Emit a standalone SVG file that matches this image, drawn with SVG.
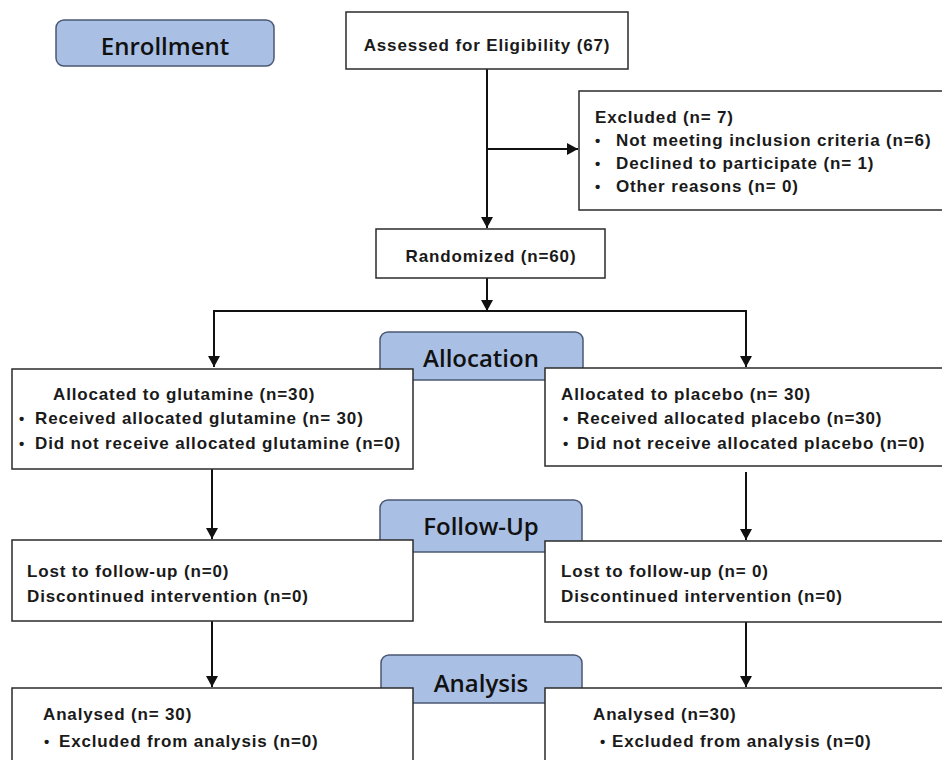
<svg xmlns="http://www.w3.org/2000/svg" width="942" height="760" viewBox="0 0 942 760">
<style>
.box{fill:#fff;stroke:#2b2b2b;stroke-width:1.5}
.stage{fill:#a9bfe3;stroke:#4b5873;stroke-width:1.5}
.st{font-family:"Open Sans","Noto Sans",sans-serif;font-weight:600;font-size:24px;fill:#111;text-anchor:middle}
.t{font-family:"Liberation Sans",Arial,sans-serif;font-weight:bold;font-size:17px;letter-spacing:0.85px;fill:#1a1a1a}
.b{font-size:15px;letter-spacing:0}
.ln{fill:none;stroke:#111;stroke-width:2}
</style>
<defs>
<marker id="ar" markerWidth="11" markerHeight="12" refX="11" refY="6" orient="auto" markerUnits="userSpaceOnUse">
<path d="M0,0 L11,6 L0,12 Z" fill="#111"/>
</marker>
</defs>
<rect width="942" height="760" fill="#fff"/>
<g id="connectors">
<path class="ln" d="M487,69 V228" marker-end="url(#ar)"/>
<path class="ln" d="M487,149 H578" marker-end="url(#ar)"/>
<path class="ln" d="M487,278 V311" marker-end="url(#ar)"/>
<path class="ln" d="M214,367 V311 H746 V367" marker-end="url(#ar)"/>
<path class="ln" d="M214,332 V367" marker-end="url(#ar)"/>
<path class="ln" d="M212,469 V539" marker-end="url(#ar)"/>
<path class="ln" d="M746,472 V540" marker-end="url(#ar)"/>
<path class="ln" d="M212,621 V687" marker-end="url(#ar)"/>
<path class="ln" d="M746,622 V687" marker-end="url(#ar)"/>
</g>
<g id="enrollment"><rect class="stage" x="56" y="20" width="218" height="46" rx="8"/><text class="st" x="165" y="55">Enrollment</text></g>
<g id="assessed"><rect class="box" x="346" y="12" width="282" height="57"/><text class="t" x="487" y="51" text-anchor="middle">Assessed for Eligibility (67)</text></g>
<g id="excluded"><rect class="box" x="579" y="91" width="370" height="119"/>
<text class="t" x="595" y="123">Excluded (n= 7)</text>
<text class="t" x="595" y="146"><tspan class="b">•</tspan><tspan x="616">Not meeting inclusion criteria (n=6)</tspan></text>
<text class="t" x="595" y="169"><tspan class="b">•</tspan><tspan x="616">Declined to participate (n= 1)</tspan></text>
<text class="t" x="595" y="192"><tspan class="b">•</tspan><tspan x="616">Other reasons (n= 0)</tspan></text>
</g>
<g id="randomized"><rect class="box" x="376" y="229" width="229" height="49"/><text class="t" x="491" y="262" text-anchor="middle">Randomized (n=60)</text></g>
<g id="allocation"><rect class="stage" x="380" y="332" width="203" height="48" rx="8"/><text class="st" x="481" y="367">Allocation</text></g>
<g id="alloc-glutamine"><rect class="box" x="12" y="369" width="401" height="100"/>
<text class="t" x="53" y="400">Allocated to glutamine (n=30)</text>
<text class="t" x="19" y="424"><tspan class="b">•</tspan><tspan x="35">Received allocated glutamine (n= 30)</tspan></text>
<text class="t" x="19" y="449"><tspan class="b">•</tspan><tspan x="35">Did not receive allocated glutamine (n=0)</tspan></text>
</g>
<g id="alloc-placebo"><rect class="box" x="545" y="368" width="405" height="98"/>
<text class="t" x="561" y="400">Allocated to placebo (n= 30)</text>
<text class="t" x="563" y="424"><tspan class="b">•</tspan><tspan x="577">Received allocated placebo (n=30)</tspan></text>
<text class="t" x="563" y="449"><tspan class="b">•</tspan><tspan x="577">Did not receive allocated placebo (n=0)</tspan></text>
</g>
<g id="followup"><rect class="stage" x="380" y="500" width="202" height="52" rx="8"/><text class="st" x="481" y="535">Follow-Up</text></g>
<g id="follow-glutamine"><rect class="box" x="12" y="540" width="401" height="81"/>
<text class="t" x="27" y="577">Lost to follow-up (n=0)</text>
<text class="t" x="27" y="602">Discontinued intervention (n=0)</text>
</g>
<g id="follow-placebo"><rect class="box" x="545" y="541" width="405" height="81"/>
<text class="t" x="561" y="577">Lost to follow-up (n= 0)</text>
<text class="t" x="561" y="602">Discontinued intervention (n=0)</text>
</g>
<g id="analysis"><rect class="stage" x="381" y="655" width="201" height="48" rx="8"/><text class="st" x="481" y="692">Analysis</text></g>
<g id="analysis-glutamine"><rect class="box" x="12" y="688" width="401" height="90"/>
<text class="t" x="43" y="720">Analysed (n= 30)</text>
<text class="t" x="44" y="747"><tspan class="b">•</tspan><tspan x="59">Excluded from analysis (n=0)</tspan></text>
</g>
<g id="analysis-placebo"><rect class="box" x="545" y="688" width="405" height="90"/>
<text class="t" x="593" y="720">Analysed (n=30)</text>
<text class="t" x="600" y="747"><tspan class="b">•</tspan><tspan x="612">Excluded from analysis (n=0)</tspan></text>
</g>
</svg>
